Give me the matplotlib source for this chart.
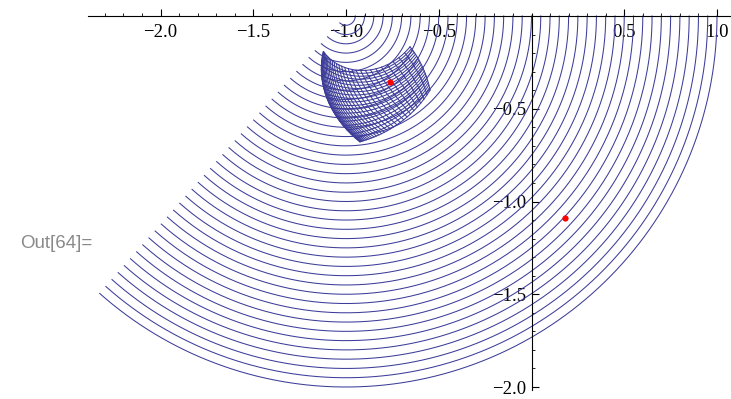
import numpy as np
import matplotlib.pyplot as plt
from matplotlib.ticker import FixedLocator, FixedFormatter

# concentric arcs around (-1, 0)
center_x = -1.0
center_y = 0.0
radii = [0.05, 0.10, 0.15, 0.20, 0.25, 0.30, 0.35, 0.40, 0.45, 0.50,
         0.55, 0.60, 0.65, 0.70, 0.75, 0.80, 0.85, 0.90, 0.95, 1.00,
         1.05, 1.10, 1.15, 1.20, 1.25, 1.30, 1.35, 1.40, 1.45, 1.50,
         1.55, 1.60, 1.65, 1.70, 1.75, 1.80, 1.85, 1.90, 1.95, 2.00]
arc_start_deg = -131.6
arc_end_deg = 0.0

# dense "fan" patch, polar corners (r, theta) around the same centre: TL, TR, BR, BL
fan_r = [0.2275, 0.383, 0.604, 0.682]
fan_theta = [-122.4, -25.7, -41.4, -83.7]
fan_u = [0.0, 0.001, 0.004, 0.01, 0.018, 0.028, 0.04, 0.054, 0.071, 0.09, 0.111,
         0.134, 0.16, 0.188, 0.218, 0.25, 0.284, 0.321, 0.36, 0.401, 0.444,
         0.49, 0.538, 0.588, 0.64, 0.694, 0.751, 0.81, 0.871, 0.934, 1.0]
fan_v = [0.0, 0.05, 0.10, 0.15, 0.20, 0.25, 0.30, 0.35, 0.40, 0.45, 0.50,
         0.55, 0.60, 0.65, 0.70, 0.75, 0.80, 0.85, 0.90, 0.95, 1.0]

# red points
red_x = [-0.763, 0.181]
red_y = [-0.356, -1.087]

x_ticks = [-2.0, -1.5, -1.0, -0.5, 0.5, 1.0]
x_labels = ['\u22122.0', '\u22121.5', '\u22121.0', '\u22120.5', '0.5', '1.0']
y_ticks = [-0.5, -1.0, -1.5, -2.0]
y_labels = ['\u22120.5', '\u22121.0', '\u22121.5', '\u22122.0']

line_col = (0.24, 0.24, 0.6)


def fan_point(u, v):
    r = ((1 - u) * (1 - v) * fan_r[0] + u * (1 - v) * fan_r[1]
         + u * v * fan_r[2] + (1 - u) * v * fan_r[3])
    th = ((1 - u) * (1 - v) * fan_theta[0] + u * (1 - v) * fan_theta[1]
          + u * v * fan_theta[2] + (1 - u) * v * fan_theta[3])
    th = np.radians(th)
    return center_x + r * np.cos(th), center_y + r * np.sin(th)


fig = plt.figure(figsize=(7.31, 3.99), dpi=100)
ax = fig.add_axes([0, 0, 1, 1])
scale = 185.5
ax.set_xlim((0 - 531.5) / scale, (731 - 531.5) / scale)
ax.set_ylim(-(399 - 16) / scale, 16 / scale)

t = np.radians(np.linspace(arc_start_deg, arc_end_deg, 300))
for r in radii:
    ax.plot(center_x + r * np.cos(t), center_y + r * np.sin(t),
            color=line_col, lw=0.75)

s = np.linspace(0, 1, 120)
for v in fan_v:
    px, py = fan_point(s, v)
    ax.plot(px, py, color=line_col, lw=0.75)
for u in fan_u:
    px, py = fan_point(u, s)
    ax.plot(px, py, color=line_col, lw=0.75)

ax.plot(red_x, red_y, 'o', color='red', ms=4.5, mec='none', zorder=5)

# Mathematica style axes through the origin
for side in ['top', 'right']:
    ax.spines[side].set_visible(False)
ax.spines['bottom'].set_position(('data', 0))
ax.spines['left'].set_position(('data', 0))
ax.spines['bottom'].set_bounds(-2.391, 1.07)
ax.spines['left'].set_bounds(-2.016, 0.01)
for side in ['bottom', 'left']:
    ax.spines[side].set_linewidth(0.8)
    ax.spines[side].set_zorder(6)

ax.xaxis.set_major_locator(FixedLocator(x_ticks))
ax.xaxis.set_major_formatter(FixedFormatter(x_labels))
ax.xaxis.set_minor_locator(FixedLocator(np.round(np.arange(-2.3, 1.05, 0.1), 2)))
ax.yaxis.set_major_locator(FixedLocator(y_ticks))
ax.yaxis.set_major_formatter(FixedFormatter(y_labels))
ax.yaxis.set_minor_locator(FixedLocator(np.round(np.arange(-1.9, 0.0, 0.1), 2)))

ax.tick_params(axis='x', which='major', direction='in', length=5, width=0.8, pad=6)
ax.tick_params(axis='x', which='minor', direction='in', length=2.5, width=0.6)
ax.tick_params(axis='y', which='major', direction='in', length=5, width=0.8, pad=4)
ax.tick_params(axis='y', which='minor', direction='in', length=2.5, width=0.6)
for lab in ax.get_xticklabels() + ax.get_yticklabels():
    lab.set_fontfamily('Liberation Serif')
    lab.set_fontsize(13.5)

fig.text(20 / 731, 1 - 244 / 399, 'Out[64]=', color='#8a8a8a',
         fontfamily='Liberation Sans', fontsize=13.5, va='center', ha='left')

plt.savefig('out.png', dpi=100)
